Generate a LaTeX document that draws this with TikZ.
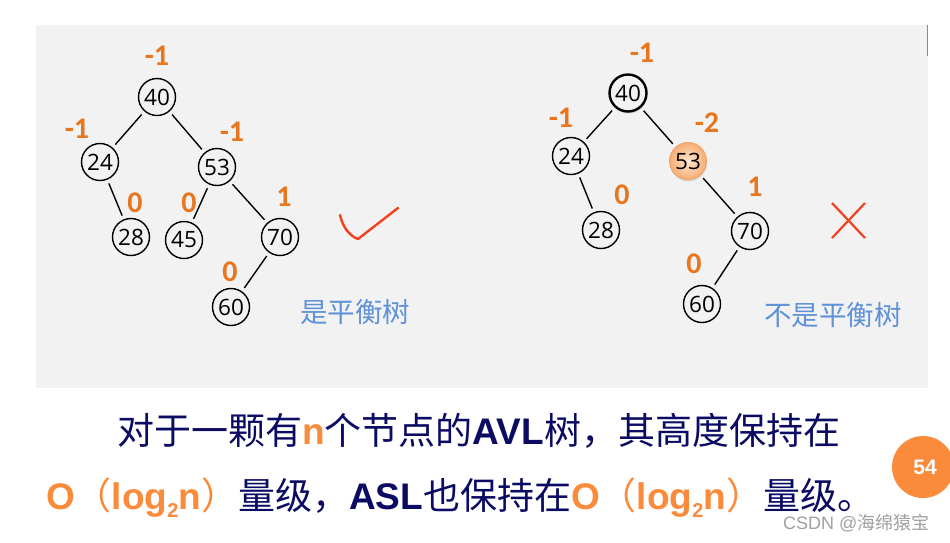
\documentclass[tikz,border=0pt]{standalone}
\usepackage{fontspec}
\setmainfont{Liberation Sans}
\newfontfamily\cjk{Noto Sans CJK SC}
\newfontfamily\numf{Open Sans}
\newfontfamily\labf{Carlito}
\newfontfamily\arl{Liberation Sans}
\usetikzlibrary{shadows}
\definecolor{panel}{HTML}{F2F2F2}
\definecolor{lab}{HTML}{E8761E}
\definecolor{org}{HTML}{F98B3A}
\definecolor{navy}{HTML}{0B0B64}
\definecolor{lblue}{HTML}{5F92D8}
\definecolor{markred}{HTML}{F2401E}
\definecolor{wm}{HTML}{A0A0A0}
\tikzset{
  tnode/.style={circle, draw=black, line width=1.4pt, minimum size=37pt, inner sep=0pt,
    font=\numf\fontsize{22.5}{22.5}\selectfont},
  bal/.style={text=lab, inner sep=0pt, font=\labf\bfseries\fontsize{30}{30}\selectfont},
  edge/.style={line width=1.4pt, shorten <=4pt, shorten >=4pt},
  markline/.style={draw=markred, line width=2.4pt, line cap=round, line join=round},
  bluetext/.style={text=lblue, inner sep=0pt, font=\cjk\fontsize{27.5}{27.5}\selectfont},
  bigtext/.style={text=navy, inner sep=0pt, anchor=base west, font=\cjk\fontsize{37}{37}\selectfont}
}
\newcommand\latb[1]{{\arl\bfseries #1}}
\newcommand\ologn{{\color{org}\latb{O}{\cjk （}\latb{log\raisebox{-8pt}{\fontsize{20}{20}\selectfont 2}n}{\cjk ）}}}
\begin{document}
\begin{tikzpicture}[x=1pt,y=-1pt]
\useasboundingbox (0,0) rectangle (950,542);
\fill[white] (0,0) rectangle (950,542);
\fill[panel] (36,25) rectangle (928,388);
\draw[color={rgb,255:red,192;green,112;blue,112}, line width=1.5pt] (927.5,25) -- (927.5,56);

% left tree
\node[tnode] (l40) at (157,97) {40};
\node[tnode] (l24) at (100,162) {24};
\node[tnode] (l53) at (217,167) {53};
\node[tnode] (l28) at (131,237) {28};
\node[tnode] (l45) at (184,240) {45};
\node[tnode] (l70) at (280,237) {70};
\node[tnode] (l60) at (231,307) {60};
\draw[edge] (l40) -- (l24);
\draw[edge] (l40) -- (l53);
\draw[edge] (l24) -- (l28);
\draw[edge] (l53) -- (l45);
\draw[edge] (l53) -- (l70);
\draw[edge] (l70) -- (l60);
\node[bal] (lb40) at (157,56) {-1};
\node[bal] (lb24) at (77,129) {-1};
\node[bal] (lb53) at (232,132) {-1};
\node[bal] (lb28) at (135,203) {0};
\node[bal] (lb45) at (189,203) {0};
\node[bal] (lb70) at (284,197) {1};
\node[bal] (lb60) at (230,272) {0};
\draw[markline] (340,215) .. controls (343,228) and (350,236) .. (358,239) -- (398,208);
\node[bluetext] (ltxt) at (355,312) {是平衡树};

% right tree
\node[tnode, line width=2.4pt, fill=panel, drop shadow={opacity=0.3, shadow xshift=0.5pt, shadow yshift=-2pt}] (r40) at (628,93) {40};
\node[tnode] (r24) at (571,156) {24};
\node[tnode, draw={rgb,255:red,240;green,160;blue,100}, line width=0.8pt, inner color={rgb,255:red,255;green,232;blue,210}, outer color={rgb,255:red,248;green,172;blue,112}, shade, drop shadow={opacity=0.25, shadow xshift=0.5pt, shadow yshift=-2pt}] (r53) at (688,161) {53};
\node[tnode] (r28) at (601,230) {28};
\node[tnode] (r70) at (750,231) {70};
\node[tnode] (r60) at (702,304) {60};
\draw[edge] (r40) -- (r24);
\draw[edge] (r40) -- (r53);
\draw[edge] (r24) -- (r28);
\draw[edge] (r53) -- (r70);
\draw[edge] (r70) -- (r60);
\node[bal] (rb40) at (642,53) {-1};
\node[bal] (rb24) at (561,118) {-1};
\node[bal] (rb53) at (707,123) {-2};
\node[bal] (rb28) at (622,195) {0};
\node[bal] (rb70) at (755,187) {1};
\node[bal] (rb60) at (694,264) {0};
\draw[markline, line width=2.2pt, line cap=butt] (832,203) -- (865,238);
\draw[markline, line width=2.2pt, line cap=butt] (865,203) -- (832,238);
\node[bluetext] (rtxt) at (833,315) {不是平衡树};

% bottom text
\node[bigtext] (line1) at (117,444) {对于一颗有{\color{org}\latb{n}}个节点的\latb{AVL}树，其高度保持在};
\node[bigtext] (line2) at (46,509) {\ologn 量级，\latb{ASL}也保持在\ologn 量级。};

% page number
\fill[org] (923,467) circle (31);
\node[text=white, font=\arl\bfseries\fontsize{21}{21}\selectfont] (pg) at (925,467) {54};

% watermark
\node[anchor=base west, inner sep=0pt, text=wm, font=\arl\fontsize{18}{18}\selectfont] (wmk) at (783,529.5) {CSDN @{\cjk 海绵猿宝}};
\end{tikzpicture}
\end{document}
